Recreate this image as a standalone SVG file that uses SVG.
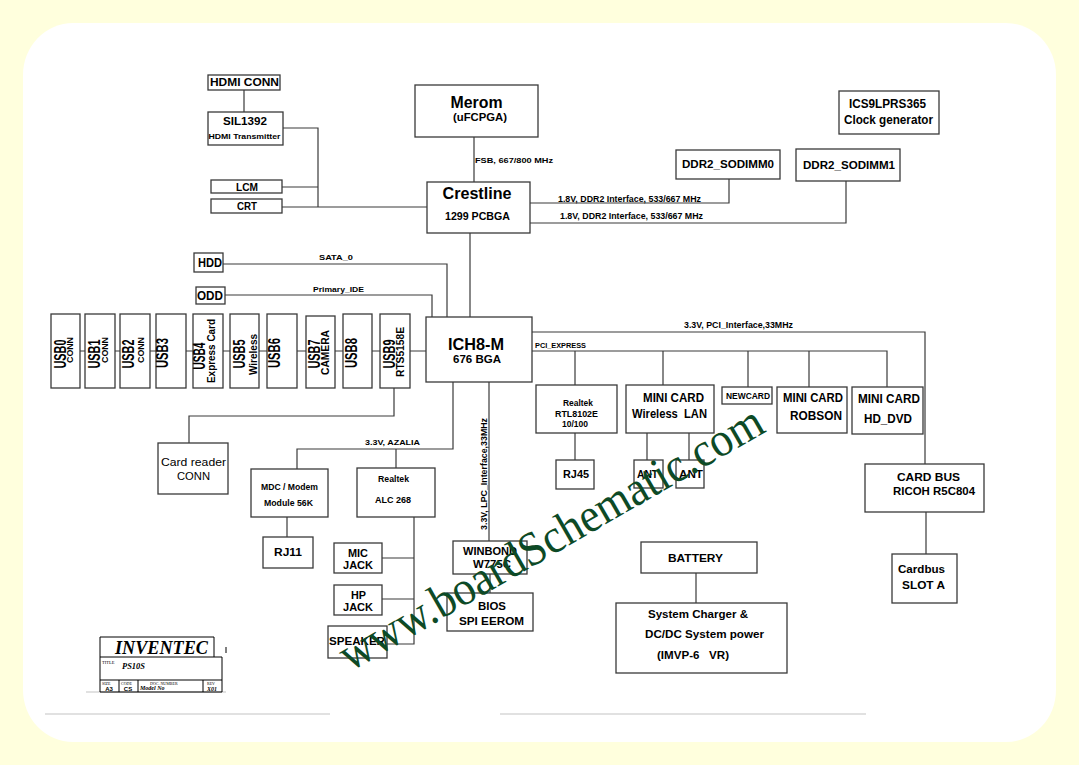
<svg xmlns="http://www.w3.org/2000/svg" width="1079" height="765" viewBox="0 0 1079 765">
<style>
.b{fill:#fff;stroke:#3a3a3a;stroke-width:1.3}
.w{fill:none;stroke:#3a3a3a;stroke-width:1.2}
.t{font-family:"Liberation Sans",Arial,sans-serif;font-weight:bold;fill:#000;text-anchor:middle}
.r{font-family:"Liberation Sans",Arial,sans-serif;fill:#000;text-anchor:middle}
.s{font-family:"Liberation Serif","Times New Roman",serif;fill:#000}
.g{fill:none;stroke:#d8d8d8;stroke-width:1.5}
</style>
<rect x="0" y="0" width="1079" height="765" fill="#FFFFDD"/>
<rect x="23" y="23" width="1033" height="719" rx="50" ry="52" fill="#fff"/>
<path class="g" d="M45,714H330M500,714H866M86,692H226"/>

<g id="connectors">
<path class="w" d="M244,90V112M283,128H318V207M282,187H318M282,207H427"/>
<path class="w" d="M474,137V182M530,203H729V179M530,223H846V181M470,233V317"/>
<path class="w" d="M223,264H447V317M225,295H432V317M80,351H426"/>
<path class="w" d="M394,388V416H189V443"/>
<path class="w" d="M453,382V449H297V469M396,449V468M287,517V537"/>
<path class="w" d="M414,517V644H387M382,558H414M382,599H414"/>
<path class="w" d="M489,382V541M490,574V593"/>
<path class="w" d="M532,332H925V464M532,351H887V387M575,351V385M663,351V385M748,351V387M809,351V387"/>
<path class="w" d="M575,433V460M647,433V460M689,433V460M926,512V554M696,573V603"/>
</g>

<g id="hdmi_conn"><rect class="b" x="208" y="75" width="72" height="15"/><text class="t" x="244.5" y="85.5" font-size="10" textLength="69" lengthAdjust="spacingAndGlyphs">HDMI CONN</text></g>
<g id="sil1392"><rect class="b" x="208" y="112" width="75" height="33"/><text class="t" x="245" y="125" font-size="11.5" textLength="44" lengthAdjust="spacingAndGlyphs">SIL1392</text><text class="t" x="244.5" y="138.5" font-size="7.5" textLength="72" lengthAdjust="spacingAndGlyphs">HDMI Transmitter</text></g>
<g id="lcm"><rect class="b" x="211" y="180" width="71" height="13"/><text class="t" x="247" y="191" font-size="11" textLength="22" lengthAdjust="spacingAndGlyphs">LCM</text></g>
<g id="crt"><rect class="b" x="211" y="199" width="71" height="14"/><text class="t" x="247" y="210" font-size="11" textLength="20" lengthAdjust="spacingAndGlyphs">CRT</text></g>

<g id="merom"><rect class="b" x="415" y="85" width="123" height="52"/><text class="t" x="476.5" y="107.5" font-size="17" textLength="52" lengthAdjust="spacingAndGlyphs">Merom</text><text class="t" x="480" y="120.5" font-size="11" textLength="54" lengthAdjust="spacingAndGlyphs">(uFCPGA)</text></g>
<text class="t" x="514" y="163" font-size="8" textLength="78" lengthAdjust="spacingAndGlyphs">FSB, 667/800 MHz</text>
<g id="crestline"><rect class="b" x="427" y="182" width="103" height="51"/><text class="t" x="477" y="199" font-size="16.3" textLength="69" lengthAdjust="spacingAndGlyphs">Crestline</text><text class="t" x="477.5" y="220" font-size="10" textLength="65" lengthAdjust="spacingAndGlyphs">1299 PCBGA</text></g>
<text class="t" x="629.5" y="202" font-size="8.3" textLength="143" lengthAdjust="spacingAndGlyphs">1.8V, DDR2 Interface, 533/667 MHz</text>
<text class="t" x="631.5" y="219" font-size="8.3" textLength="143" lengthAdjust="spacingAndGlyphs">1.8V, DDR2 Interface, 533/667 MHz</text>
<g id="sodimm0"><rect class="b" x="676" y="150" width="104" height="29"/><text class="t" x="728" y="168" font-size="11.5" textLength="92" lengthAdjust="spacingAndGlyphs">DDR2_SODIMM0</text></g>
<g id="sodimm1"><rect class="b" x="796" y="149" width="104" height="32"/><text class="t" x="849" y="169" font-size="11.5" textLength="92" lengthAdjust="spacingAndGlyphs">DDR2_SODIMM1</text></g>
<g id="clockgen"><rect class="b" x="839" y="91" width="100" height="43"/><text class="t" x="887.5" y="108" font-size="12" textLength="77" lengthAdjust="spacingAndGlyphs">ICS9LPRS365</text><text class="t" x="888.5" y="124" font-size="12" textLength="89" lengthAdjust="spacingAndGlyphs">Clock generator</text></g>

<g id="hdd"><rect class="b" x="194" y="253" width="29" height="19"/><text class="t" x="210" y="267" font-size="12.5" textLength="24" lengthAdjust="spacingAndGlyphs">HDD</text></g>
<text class="t" x="336" y="260" font-size="8" textLength="34" lengthAdjust="spacingAndGlyphs">SATA_0</text>
<g id="odd"><rect class="b" x="196" y="287" width="29" height="17"/><text class="t" x="210" y="299.5" font-size="12.5" textLength="26" lengthAdjust="spacingAndGlyphs">ODD</text></g>
<text class="t" x="338.5" y="292" font-size="8" textLength="51" lengthAdjust="spacingAndGlyphs">Primary_IDE</text>

<g id="usb0"><rect class="b" x="51" y="314" width="29" height="74"/><text class="t" transform="translate(66,354) rotate(-90)" font-size="16" textLength="29" lengthAdjust="spacingAndGlyphs">USB0</text><text class="t" transform="translate(73,350) rotate(-90)" font-size="9" textLength="26" lengthAdjust="spacingAndGlyphs">CONN</text></g>
<g id="usb1"><rect class="b" x="85" y="314" width="30" height="74"/><text class="t" transform="translate(100,354) rotate(-90)" font-size="16" textLength="29" lengthAdjust="spacingAndGlyphs">USB1</text><text class="t" transform="translate(108,350) rotate(-90)" font-size="9" textLength="26" lengthAdjust="spacingAndGlyphs">CONN</text></g>
<g id="usb2"><rect class="b" x="120" y="314" width="30" height="74"/><text class="t" transform="translate(134,354) rotate(-90)" font-size="16" textLength="29" lengthAdjust="spacingAndGlyphs">USB2</text><text class="t" transform="translate(144,350) rotate(-90)" font-size="9" textLength="26" lengthAdjust="spacingAndGlyphs">CONN</text></g>
<g id="usb3"><rect class="b" x="156" y="314" width="30" height="74"/><text class="t" transform="translate(167.5,353) rotate(-90)" font-size="16" textLength="30" lengthAdjust="spacingAndGlyphs">USB3</text></g>
<g id="usb4"><rect class="b" x="193" y="314" width="30" height="74"/><text class="t" transform="translate(205,356) rotate(-90)" font-size="16" textLength="27" lengthAdjust="spacingAndGlyphs">USB4</text><text class="t" transform="translate(215,351) rotate(-90)" font-size="10.5" textLength="64" lengthAdjust="spacingAndGlyphs">Express Card</text></g>
<g id="usb5"><rect class="b" x="230" y="314" width="29" height="74"/><text class="t" transform="translate(245,354) rotate(-90)" font-size="16" textLength="29" lengthAdjust="spacingAndGlyphs">USB5</text><text class="t" transform="translate(256.5,354.5) rotate(-90)" font-size="10.5" textLength="41" lengthAdjust="spacingAndGlyphs">Wireless</text></g>
<g id="usb6"><rect class="b" x="267" y="314" width="30" height="74"/><text class="t" transform="translate(280,353) rotate(-90)" font-size="16" textLength="30" lengthAdjust="spacingAndGlyphs">USB6</text></g>
<g id="usb7"><rect class="b" x="306" y="316" width="29" height="72"/><text class="t" transform="translate(320,354) rotate(-90)" font-size="16" textLength="29" lengthAdjust="spacingAndGlyphs">USB7</text><text class="t" transform="translate(329,352.5) rotate(-90)" font-size="10.5" textLength="45" lengthAdjust="spacingAndGlyphs">CAMERA</text></g>
<g id="usb8"><rect class="b" x="343" y="314" width="29" height="74"/><text class="t" transform="translate(357,353) rotate(-90)" font-size="16" textLength="30" lengthAdjust="spacingAndGlyphs">USB8</text></g>
<g id="usb9"><rect class="b" x="380" y="314" width="30" height="74"/><text class="t" transform="translate(395,354) rotate(-90)" font-size="16" textLength="29" lengthAdjust="spacingAndGlyphs">USB9</text><text class="t" transform="translate(404,352) rotate(-90)" font-size="10.5" textLength="50" lengthAdjust="spacingAndGlyphs">RTS5158E</text></g>

<g id="ich8m"><rect class="b" x="426" y="317" width="106" height="65"/><text class="t" x="476" y="350" font-size="16.5" textLength="56" lengthAdjust="spacingAndGlyphs">ICH8-M</text><text class="t" x="477" y="363" font-size="11.5" textLength="48" lengthAdjust="spacingAndGlyphs">676 BGA</text></g>

<g id="cardreader"><rect class="b" x="158" y="443" width="70" height="51"/><text class="r" x="193.5" y="466" font-size="11.5" textLength="65" lengthAdjust="spacingAndGlyphs">Card reader</text><text class="r" x="193.5" y="480" font-size="11.5" textLength="33" lengthAdjust="spacingAndGlyphs">CONN</text></g>
<text class="t" x="392.5" y="444.5" font-size="8" textLength="55" lengthAdjust="spacingAndGlyphs">3.3V, AZALIA</text>
<g id="modem"><rect class="b" x="251" y="469" width="77" height="48"/><text class="t" x="289.5" y="490" font-size="8.3" textLength="57" lengthAdjust="spacingAndGlyphs">MDC / Modem</text><text class="t" x="288.5" y="506" font-size="8.3" textLength="49" lengthAdjust="spacingAndGlyphs">Module 56K</text></g>
<g id="rj11"><rect class="b" x="263" y="537" width="50" height="31"/><text class="t" x="288" y="556" font-size="11.5" textLength="28" lengthAdjust="spacingAndGlyphs">RJ11</text></g>
<g id="alc268"><rect class="b" x="357" y="468" width="78" height="49"/><text class="t" x="393.5" y="482" font-size="8.3" textLength="31" lengthAdjust="spacingAndGlyphs">Realtek</text><text class="t" x="393" y="503" font-size="8.3" textLength="36" lengthAdjust="spacingAndGlyphs">ALC 268</text></g>
<g id="micjack"><rect class="b" x="334" y="543" width="48" height="30"/><text class="t" x="358" y="557" font-size="11.5" textLength="20" lengthAdjust="spacingAndGlyphs">MIC</text><text class="t" x="358" y="568.5" font-size="11.5" textLength="30" lengthAdjust="spacingAndGlyphs">JACK</text></g>
<g id="hpjack"><rect class="b" x="334" y="585" width="48" height="30"/><text class="t" x="358.5" y="598.5" font-size="11.5" textLength="15" lengthAdjust="spacingAndGlyphs">HP</text><text class="t" x="358" y="610.5" font-size="11.5" textLength="30" lengthAdjust="spacingAndGlyphs">JACK</text></g>
<g id="speaker"><rect class="b" x="328" y="626" width="59" height="32"/><text class="t" x="357" y="644.5" font-size="11.5" textLength="56" lengthAdjust="spacingAndGlyphs">SPEAKER</text></g>

<text class="t" transform="translate(486.5,474) rotate(-90)" font-size="8.5" textLength="112" lengthAdjust="spacingAndGlyphs">3.3V, LPC_Interface,33MHz</text>
<g id="winbond"><rect class="b" x="453" y="541" width="74" height="33"/><text class="t" x="490" y="555" font-size="11.5" textLength="54" lengthAdjust="spacingAndGlyphs">WINBOND</text><text class="t" x="492" y="568" font-size="11.5" textLength="38" lengthAdjust="spacingAndGlyphs">W775C</text></g>
<g id="bios"><rect class="b" x="447" y="593" width="86" height="38"/><text class="t" x="492" y="610" font-size="11.5" textLength="28" lengthAdjust="spacingAndGlyphs">BIOS</text><text class="t" x="491.5" y="625" font-size="11.5" textLength="65" lengthAdjust="spacingAndGlyphs">SPI EEROM</text></g>

<text class="t" x="738.5" y="327.5" font-size="8.3" textLength="109" lengthAdjust="spacingAndGlyphs">3.3V, PCI_Interface,33MHz</text>
<text class="t" x="560.5" y="348" font-size="7" textLength="51" lengthAdjust="spacingAndGlyphs">PCI_EXPRESS</text>
<g id="rtl8102e"><rect class="b" x="536" y="385" width="81" height="48"/><text class="t" x="578" y="406" font-size="8.3" textLength="30" lengthAdjust="spacingAndGlyphs">Realtek</text><text class="t" x="576.5" y="417" font-size="8.3" textLength="43" lengthAdjust="spacingAndGlyphs">RTL8102E</text><text class="t" x="575" y="427" font-size="8.3" textLength="26" lengthAdjust="spacingAndGlyphs">10/100</text></g>
<g id="rj45"><rect class="b" x="556" y="460" width="38" height="29"/><text class="t" x="576" y="477.5" font-size="11.5" textLength="26" lengthAdjust="spacingAndGlyphs">RJ45</text></g>
<g id="minicard_wlan"><rect class="b" x="626" y="385" width="88" height="48"/><text class="t" x="673.5" y="402" font-size="12" textLength="61" lengthAdjust="spacingAndGlyphs">MINI CARD</text><text class="t" x="669.5" y="418" font-size="12" textLength="75" lengthAdjust="spacingAndGlyphs">Wireless&#160; LAN</text></g>
<g id="ant1"><rect class="b" x="634" y="460" width="29" height="28"/><text class="t" x="647.5" y="478" font-size="11.5" textLength="21" lengthAdjust="spacingAndGlyphs">ANT</text></g>
<g id="ant2"><rect class="b" x="676" y="460" width="28" height="28"/><text class="t" x="691" y="478" font-size="11.5" textLength="24" lengthAdjust="spacingAndGlyphs">ANT</text></g>
<g id="newcard"><rect class="b" x="722" y="387" width="50" height="17"/><text class="t" x="748" y="398.5" font-size="8.5" textLength="44" lengthAdjust="spacingAndGlyphs">NEWCARD</text></g>
<g id="minicard_robson"><rect class="b" x="777" y="387" width="70" height="46"/><text class="t" x="813" y="401.5" font-size="12" textLength="60" lengthAdjust="spacingAndGlyphs">MINI CARD</text><text class="t" x="816" y="420" font-size="12" textLength="52" lengthAdjust="spacingAndGlyphs">ROBSON</text></g>
<g id="minicard_hddvd"><rect class="b" x="852" y="387" width="71" height="47"/><text class="t" x="889" y="402.5" font-size="12" textLength="62" lengthAdjust="spacingAndGlyphs">MINI CARD</text><text class="t" x="888" y="423" font-size="12" textLength="48" lengthAdjust="spacingAndGlyphs">HD_DVD</text></g>
<g id="cardbus"><rect class="b" x="865" y="464" width="119" height="48"/><text class="t" x="928.5" y="481" font-size="11.5" textLength="63" lengthAdjust="spacingAndGlyphs">CARD BUS</text><text class="t" x="934" y="494.5" font-size="11.5" textLength="82" lengthAdjust="spacingAndGlyphs">RICOH R5C804</text></g>
<g id="cardbus_slot"><rect class="b" x="892" y="554" width="65" height="49"/><text class="t" x="921.5" y="573" font-size="11.5" textLength="47" lengthAdjust="spacingAndGlyphs">Cardbus</text><text class="t" x="923.5" y="589" font-size="11.5" textLength="43" lengthAdjust="spacingAndGlyphs">SLOT A</text></g>
<g id="battery"><rect class="b" x="641" y="542" width="116" height="31"/><text class="t" x="695.5" y="562" font-size="11.5" textLength="55" lengthAdjust="spacingAndGlyphs">BATTERY</text></g>
<g id="charger"><rect class="b" x="616" y="603" width="171" height="70"/><text class="t" x="698" y="617.5" font-size="11" textLength="100" lengthAdjust="spacingAndGlyphs">System Charger &amp;</text><text class="t" x="704.5" y="637.5" font-size="11" textLength="119" lengthAdjust="spacingAndGlyphs">DC/DC System power</text><text class="t" x="693" y="659" font-size="11" textLength="72" lengthAdjust="spacingAndGlyphs">(IMVP-6&#160;&#160; VR)</text></g>

<g id="titleblock">
<path fill="none" stroke="#000" stroke-width="1" d="M100,637H214V657M100,637V692H222V657H100M100,680H222M119,680V692M138,680V692M203,680V692M226,647V653"/>
<text class="s" x="161.5" y="654" font-size="18" font-weight="bold" font-style="italic" text-anchor="middle" textLength="93" lengthAdjust="spacingAndGlyphs">INVENTEC</text>
<text class="s" x="102" y="664" font-size="4.5">TITLE</text>
<text class="s" x="122" y="669" font-size="9" font-weight="bold" font-style="italic" textLength="23" lengthAdjust="spacingAndGlyphs">PS10S</text>
<text class="s" x="102" y="684.5" font-size="4">SIZE</text>
<text class="s" x="121" y="684.5" font-size="4">CODE</text>
<text class="s" x="150" y="684.5" font-size="4">DOC. NUMBER</text>
<text class="s" x="207" y="684.5" font-size="4">REV</text>
<text class="t" x="109" y="691" font-size="6">A3</text>
<text class="t" x="128" y="691" font-size="6">CS</text>
<text class="s" x="140" y="690" font-size="6" font-style="italic" font-weight="bold">Model  No</text>
<text class="s" x="207" y="691" font-size="6" font-style="italic" font-weight="bold">X01</text>
</g>

<text x="0" y="0" transform="translate(350,672) rotate(-30)" font-family="'Liberation Serif','Times New Roman',serif" font-size="48" fill="#0d4a26" textLength="482" lengthAdjust="spacingAndGlyphs">www.boardSchematic.com</text>
</svg>
